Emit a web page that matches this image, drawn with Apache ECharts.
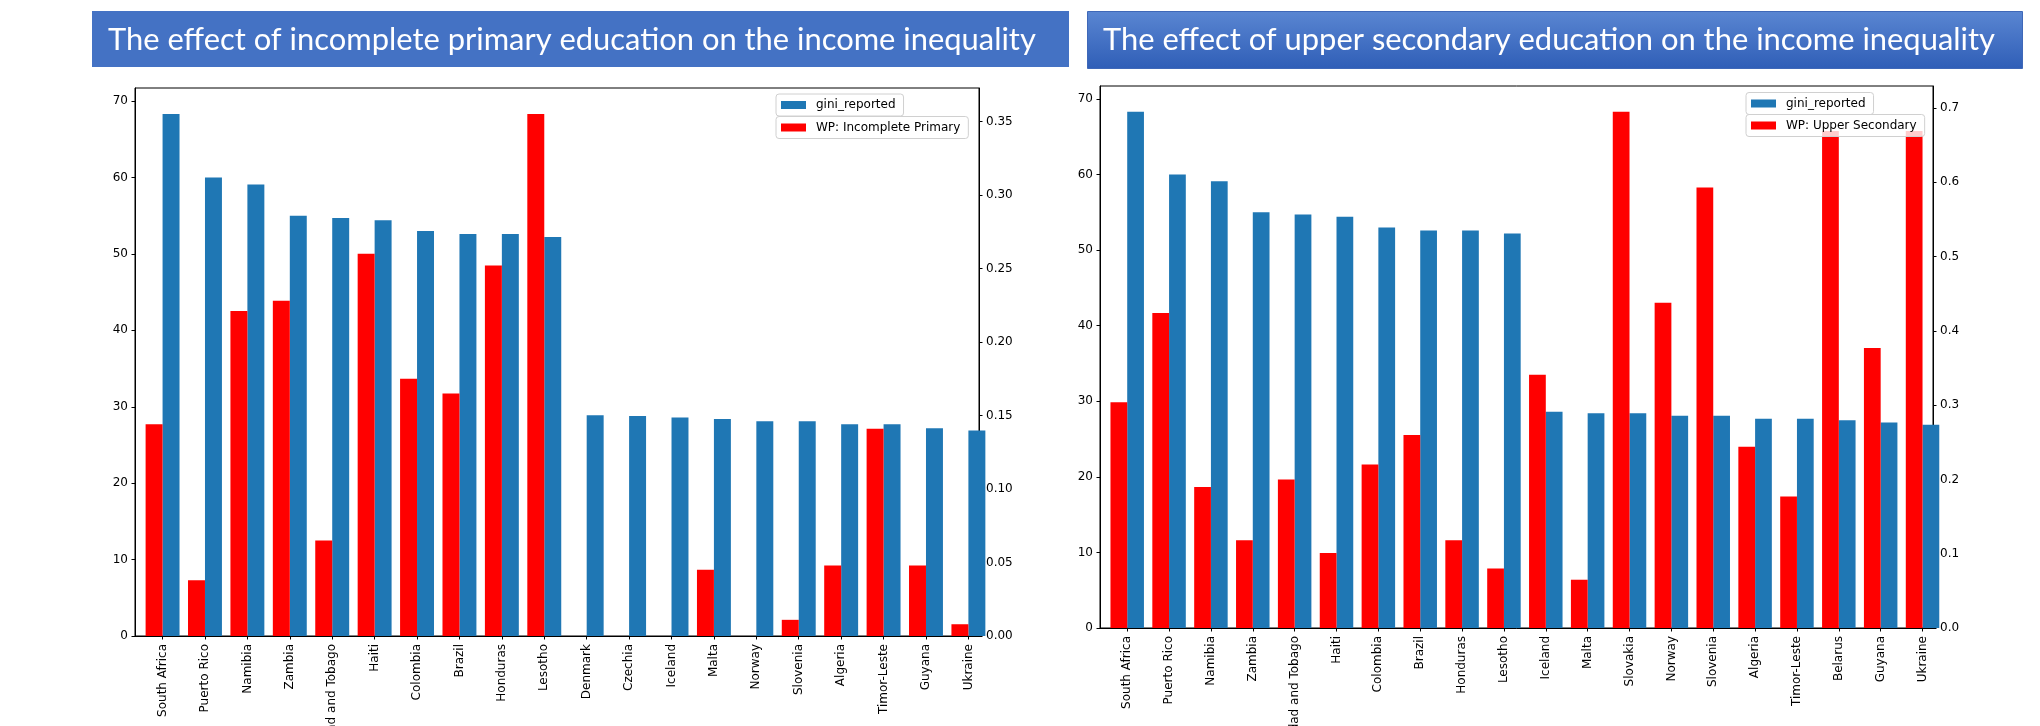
<!DOCTYPE html>
<html>
<head>
<meta charset="utf-8">
<script src="https://cdn.jsdelivr.net/npm/echarts@6/dist/echarts.min.js"></script>
<style>
html, body { margin: 0; padding: 0; background: #fff; }
#chart { width: 2040px; height: 726px; }
</style>
</head>
<body>
<div id="chart"></div>
<script>
// left chart: incomplete primary
var primaryCountries = ['South Africa', 'Puerto Rico', 'Namibia', 'Zambia', 'Trinidad and Tobago', 'Haiti', 'Colombia', 'Brazil', 'Honduras', 'Lesotho',
    'Denmark', 'Czechia', 'Iceland', 'Malta', 'Norway', 'Slovenia', 'Algeria', 'Timor-Leste', 'Guyana', 'Ukraine'];
var primaryGini = [68.3, 60.0, 59.1, 55.0, 54.7, 54.4, 53.0, 52.6, 52.6, 52.2, 28.9, 28.8, 28.6, 28.4, 28.1, 28.1, 27.7, 27.7, 27.2, 26.9];
var primaryShare = [0.144, 0.038, 0.221, 0.228, 0.065, 0.260, 0.175, 0.165, 0.252, 0.355, null, null, null, 0.045, null, 0.011, 0.048, 0.141, 0.048, 0.008];

// right chart: upper secondary
var secondaryCountries = ['South Africa', 'Puerto Rico', 'Namibia', 'Zambia', 'Trinidad and Tobago', 'Haiti', 'Colombia', 'Brazil', 'Honduras', 'Lesotho',
    'Iceland', 'Malta', 'Slovakia', 'Norway', 'Slovenia', 'Algeria', 'Timor-Leste', 'Belarus', 'Guyana', 'Ukraine'];
var secondaryGini = [68.3, 60.0, 59.1, 55.0, 54.7, 54.4, 53.0, 52.6, 52.6, 52.2, 28.6, 28.4, 28.4, 28.1, 28.1, 27.7, 27.7, 27.5, 27.2, 26.9];
var secondaryShare = [0.304, 0.424, 0.190, 0.118, 0.200, 0.101, 0.220, 0.260, 0.118, 0.080, 0.341, 0.065, 0.695, 0.438, 0.593, 0.244, 0.177, 0.669, 0.377, 0.669];

var giniTicks = [0, 10, 20, 30, 40, 50, 60, 70];
var primaryTicks = [0, 0.05, 0.10, 0.15, 0.20, 0.25, 0.30, 0.35];
var secondaryTicks = [0, 0.1, 0.2, 0.3, 0.4, 0.5, 0.6, 0.7];

var titleLeft = 'The effect of incomplete primary education on the income inequality';
var titleRight = 'The effect of upper secondary education on the income inequality';

var BLUE = '#1f77b4', RED = '#ff0000';
var tickFont = { fontFamily: 'DejaVu Sans', fontSize: 12, color: '#000' };

function fitSize(text, family, target) {
    var ctx = document.createElement('canvas').getContext('2d');
    ctx.font = '30px ' + family;
    return 30 * target / ctx.measureText(text).width;
}
var titleSize = fitSize(titleLeft, 'Lato', 929);

function maxOf(arr) {
    return Math.max.apply(null, arr.filter(function (v) { return v != null; }));
}
function pairs(arr) {
    return arr.map(function (v, i) { return [i, v]; });
}
function idx(arr) {
    return arr.map(function (v, i) { return i; });
}

function xAxisFor(grid, countries) {
    return {
        type: 'value', gridIndex: grid, min: -0.65, max: countries.length - 0.75,
        splitLine: { show: false },
        axisLine: { onZero: false, lineStyle: { color: '#000', width: 1 } },
        axisTick: { customValues: idx(countries), length: 3.5, lineStyle: { color: '#000' } },
        axisLabel: {
            customValues: idx(countries), rotate: 90, margin: 8,
            formatter: function (v) { return countries[Math.round(v)]; },
            fontFamily: 'DejaVu Sans', fontSize: 12, color: '#000'
        }
    };
}
function yAxisFor(grid, pos, max, ticks, digits) {
    return {
        type: 'value', gridIndex: grid, position: pos, min: 0, max: max,
        splitLine: { show: false },
        axisLine: { show: true, onZero: false, lineStyle: { color: '#000', width: 1 } },
        axisTick: { show: true, customValues: ticks, length: 3.5, lineStyle: { color: '#000' } },
        axisLabel: Object.assign({
            customValues: ticks, margin: 7,
            formatter: function (v) { return v.toFixed(digits); }
        }, tickFont)
    };
}
function legendAt(name, left, top) {
    return {
        data: [name], left: left, top: top, orient: 'vertical', selectedMode: false,
        icon: 'rect', itemWidth: 25, itemHeight: 8,
        padding: [4, 8, 4, 5],
        borderColor: '#d0d0d0', borderWidth: 1, borderRadius: 3,
        backgroundColor: 'rgba(255,255,255,0.8)',
        textStyle: { fontFamily: 'DejaVu Sans', fontSize: 12, color: '#000', lineHeight: 14, padding: [0, 0, 0, 5] }
    };
}

var chart = echarts.init(document.getElementById('chart'), null, { renderer: 'canvas' });

var option = {
    animation: false,
    backgroundColor: '#fff',
    graphic: [
        { type: 'rect', left: 92, top: 11, shape: { width: 977, height: 56 }, style: { fill: '#4472C4' } },
        { type: 'text', x: 108, y: 40, style: { text: titleLeft, fill: '#fff', font: titleSize.toFixed(1) + 'px Lato', verticalAlign: 'middle' } },
        {
            type: 'rect', left: 1087, top: 11, shape: { width: 935, height: 57 },
            style: {
                fill: new echarts.graphic.LinearGradient(0, 0, 0, 1, [
                    { offset: 0, color: '#5a86d2' }, { offset: 1, color: '#2f5eb7' }
                ]),
                stroke: '#3f68b8', lineWidth: 1
            }
        },
        { type: 'text', x: 1103, y: 40, style: { text: titleRight, fill: '#fff', font: titleSize.toFixed(1) + 'px Lato', verticalAlign: 'middle' } }
    ],
    grid: [
        { left: 135, top: 88, width: 844, height: 548, outerBoundsMode: 'none', containLabel: false,
          show: true, borderColor: '#000', borderWidth: 1, backgroundColor: 'transparent' },
        { left: 1100, top: 86, width: 833, height: 542, outerBoundsMode: 'none', containLabel: false,
          show: true, borderColor: '#000', borderWidth: 1, backgroundColor: 'transparent' }
    ],
    legend: [
        legendAt('gini_reported', 776, 94),
        legendAt('WP: Incomplete Primary', 776, 116.5),
        legendAt('gini_reported', 1746, 92.5),
        legendAt('WP: Upper Secondary', 1746, 114.5)
    ],
    xAxis: [
        xAxisFor(0, primaryCountries),
        xAxisFor(1, secondaryCountries)
    ],
    yAxis: [
        yAxisFor(0, 'left', maxOf(primaryGini) * 1.05, giniTicks, 0),
        yAxisFor(0, 'right', maxOf(primaryShare) * 1.05, primaryTicks, 2),
        yAxisFor(1, 'left', maxOf(secondaryGini) * 1.05, giniTicks, 0),
        yAxisFor(1, 'right', maxOf(secondaryShare) * 1.05, secondaryTicks, 1)
    ],
    series: [
        { name: 'WP: Incomplete Primary', type: 'bar', xAxisIndex: 0, yAxisIndex: 1, data: pairs(primaryShare),
          barWidth: '40%', barGap: '0%', itemStyle: { color: RED }, z: 3 },
        { name: 'gini_reported', type: 'bar', xAxisIndex: 0, yAxisIndex: 0, data: pairs(primaryGini),
          barWidth: '40%', barGap: '0%', itemStyle: { color: BLUE } },
        { name: 'WP: Upper Secondary', type: 'bar', xAxisIndex: 1, yAxisIndex: 3, data: pairs(secondaryShare),
          barWidth: '40%', barGap: '0%', itemStyle: { color: RED }, z: 3 },
        { name: 'gini_reported', type: 'bar', xAxisIndex: 1, yAxisIndex: 2, data: pairs(secondaryGini),
          barWidth: '40%', barGap: '0%', itemStyle: { color: BLUE } }
    ]
};

chart.setOption(option);
</script>
</body>
</html>
